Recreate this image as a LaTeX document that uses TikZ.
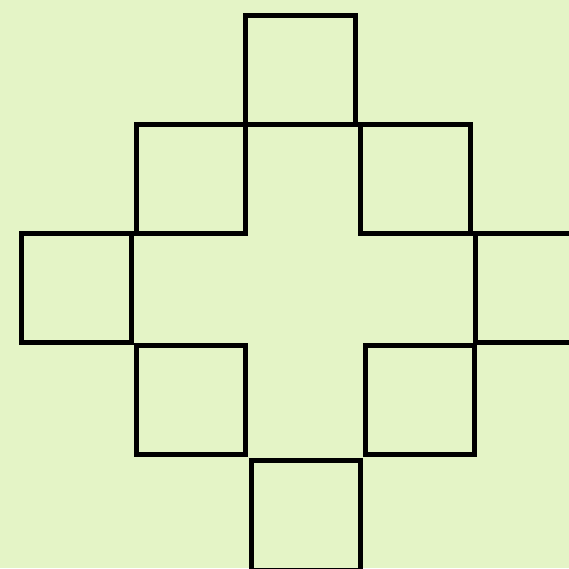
\documentclass[tikz,border=0pt]{standalone}
\definecolor{bg}{RGB}{228,244,198}
\begin{document}
\begin{tikzpicture}[x=1pt,y=-1pt,sq/.style={draw=black,line width=5pt,line join=miter}]
\useasboundingbox (0,0) rectangle (569,568);
\fill[bg] (0,0) rectangle (569,568);
\clip (0,0) rectangle (569,568);
% top
\draw[sq] (245,15) rectangle (355,124);
% upper left / upper right
\draw[sq] (136,124) rectangle (245,233);
\draw[sq] (360,124) rectangle (470,233);
% left / right
\draw[sq] (21,233) rectangle (131,342);
\draw[sq] (475,233) rectangle (585,342);
% lower left / lower right
\draw[sq] (136,345) rectangle (245.5,454);
\draw[sq] (365,345) rectangle (474.5,454);
% bottom
\draw[sq] (251,460) rectangle (360,570);
\end{tikzpicture}
\end{document}
